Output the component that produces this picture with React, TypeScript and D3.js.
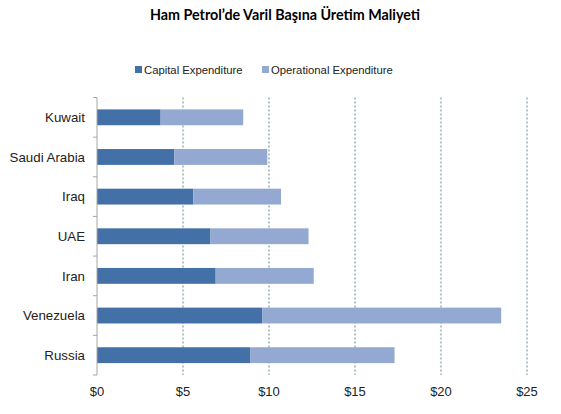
import React, { useEffect, useRef } from 'react';
import * as d3 from 'd3';

const countries = ['Kuwait', 'Saudi Arabia', 'Iraq', 'UAE', 'Iran', 'Venezuela', 'Russia'];
const capital = [3.7, 4.5, 5.6, 6.6, 6.9, 9.6, 8.9];
const operational = [4.8, 5.4, 5.1, 5.7, 5.7, 13.9, 8.4];
const xTicks = [0, 5, 10, 15, 20, 25];
const seriesNames = ['Capital Expenditure', 'Operational Expenditure'];
const colors = ['#4371a7', '#93a9d1'];

const App: React.FC = () => {
  const svgRef = useRef<SVGSVGElement>(null);

  useEffect(() => {
    if (!svgRef.current) return;
    const width = 561;
    const height = 414;
    const svg = d3.select(svgRef.current);
    svg.selectAll('*').remove();
    svg.attr('width', width).attr('height', height);

    const left = 97;
    const right = 527;
    const top = 97.5;
    const bottom = 375;

    const x = d3.scaleLinear().domain([0, 25]).range([left, right]);
    const y = d3
      .scaleBand()
      .domain(countries)
      .range([top, bottom])
      .paddingInner(0.6)
      .paddingOuter(0.3);

    // title
    svg
      .append('text')
      .attr('x', 285)
      .attr('y', 20)
      .attr('text-anchor', 'middle')
      .attr('font-family', 'Lato, sans-serif')
      .attr('font-weight', 'bold')
      .attr('font-size', '14.3px')
      .text('Ham Petrol’de Varil Başına Üretim Maliyeti');

    // gridlines
    svg
      .append('g')
      .selectAll('line')
      .data(xTicks.slice(1))
      .enter()
      .append('line')
      .attr('x1', (d) => x(d))
      .attr('x2', (d) => x(d))
      .attr('y1', top)
      .attr('y2', bottom)
      .attr('stroke', '#5f8d99')
      .attr('stroke-width', 1)
      .attr('stroke-dasharray', '2,2');

    // bars
    const rows = countries.map((c, i) => ({ c, cap: capital[i], op: operational[i] }));
    const bars = svg.append('g');
    bars
      .selectAll('rect.cap')
      .data(rows)
      .enter()
      .append('rect')
      .attr('class', 'cap')
      .attr('x', x(0))
      .attr('y', (d) => y(d.c) || 0)
      .attr('width', (d) => x(d.cap) - x(0))
      .attr('height', y.bandwidth())
      .attr('fill', colors[0]);
    bars
      .selectAll('rect.op')
      .data(rows)
      .enter()
      .append('rect')
      .attr('class', 'op')
      .attr('x', (d) => x(d.cap))
      .attr('y', (d) => y(d.c) || 0)
      .attr('width', (d) => x(d.cap + d.op) - x(d.cap))
      .attr('height', y.bandwidth())
      .attr('fill', colors[1]);

    // y axis
    const yAxis = svg.append('g');
    yAxis
      .append('line')
      .attr('x1', left)
      .attr('x2', left)
      .attr('y1', top)
      .attr('y2', bottom)
      .attr('stroke', '#a6a6a6');
    const step = y.step();
    const bounds = d3.range(countries.length + 1).map((i) => top + i * step);
    yAxis
      .selectAll('line.tick')
      .data(bounds)
      .enter()
      .append('line')
      .attr('class', 'tick')
      .attr('x1', left - 4)
      .attr('x2', left)
      .attr('y1', (d) => d)
      .attr('y2', (d) => d)
      .attr('stroke', '#a6a6a6');
    yAxis
      .selectAll('text')
      .data(countries)
      .enter()
      .append('text')
      .attr('x', 85)
      .attr('y', (d) => (y(d) || 0) + y.bandwidth() / 2)
      .attr('dy', '0.35em')
      .attr('text-anchor', 'end')
      .attr('font-family', 'Liberation Sans, Arial, sans-serif')
      .attr('font-size', '13.3px')
      .attr('fill', '#222')
      .text((d) => d);

    // x labels
    svg
      .append('g')
      .selectAll('text')
      .data(xTicks)
      .enter()
      .append('text')
      .attr('x', (d) => x(d))
      .attr('y', 396)
      .attr('text-anchor', 'middle')
      .attr('font-family', 'Liberation Sans, Arial, sans-serif')
      .attr('font-size', '13px')
      .attr('fill', '#222')
      .text((d) => `$${d}`);

    // legend
    const legendX = [135, 262];
    const legend = svg.append('g');
    seriesNames.forEach((name, i) => {
      legend
        .append('rect')
        .attr('x', legendX[i])
        .attr('y', 66)
        .attr('width', 7)
        .attr('height', 7)
        .attr('fill', colors[i]);
      legend
        .append('text')
        .attr('x', legendX[i] + 9)
        .attr('y', 74)
        .attr('font-family', 'Liberation Sans, Arial, sans-serif')
        .attr('font-size', '11.3px')
        .attr('fill', '#222')
        .text(name);
    });
  }, []);

  return <svg ref={svgRef} style={{ position: 'absolute', left: 0, top: 0 }} />;
};

export default App;
